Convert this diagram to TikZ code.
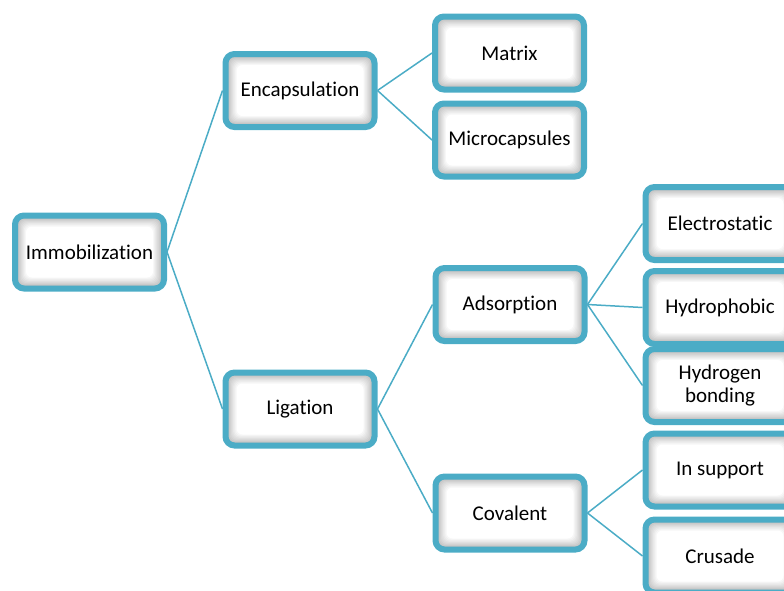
\documentclass[tikz,border=0pt]{standalone}
\usepackage{fontspec}
\setmainfont{Carlito}[Ligatures=NoCommon]
\definecolor{boxline}{HTML}{4BACC6}

\begin{document}
\begin{tikzpicture}[x=1pt, y=-1pt,
    every node/.style={font=\fontsize{21}{23.5}\selectfont, align=center},
    catbox/.style={draw=boxline, line width=6pt, rounded corners=9pt,
        minimum width=149pt, minimum height=73pt, inner sep=0pt,
        path picture={
            \foreach \k in {0,...,10} {
                \pgfmathtruncatemacro{\tint}{\k*10}
                \fill[white!\tint!gray!60, rounded corners=6pt]
                    ([shift={(\k*1.1pt,-\k*1.1pt)}]path picture bounding box.north west)
                    rectangle ([shift={(-\k*1.1pt,\k*1.1pt)}]path picture bounding box.south east);
            }
        }},
    link/.style={boxline, line width=1.5pt}]

    % Page frame
    \useasboundingbox (0,0) rectangle (784,590);

    % =====================================================
    % Root and first level
    % =====================================================
    \node[catbox] (imm) at (89.5,252) {Immobilization};
    \node[catbox] (enc) at (300,90.5) {Encapsulation};
    \node[catbox] (lig) at (300,409) {Ligation};

    % =====================================================
    % Second level
    % =====================================================
    \node[catbox] (mat) at (509.5,53) {Matrix};
    \node[catbox] (mic) at (509.5,140) {Microcapsules};
    \node[catbox] (ads) at (510,304.5) {Adsorption};
    \node[catbox] (cov) at (510,513) {Covalent};

    % =====================================================
    % Third level
    % =====================================================
    \node[catbox] (ele) at (720,223.5) {Electrostatic};
    \node[catbox] (hyd) at (720,307.5) {Hydrophobic};
    \node[catbox] (hbo) at (720,385.5) {Hydrogen\\bonding};
    \node[catbox] (sup) at (720,470) {In support};
    \node[catbox] (cru) at (720,556) {Crusade};

    % Connectors
    \draw[link] (imm.east) -- (enc.west);
    \draw[link] (imm.east) -- (lig.west);
    \draw[link] (enc.east) -- (mat.west);
    \draw[link] (enc.east) -- (mic.west);
    \draw[link] (lig.east) -- (ads.west);
    \draw[link] (lig.east) -- (cov.west);
    \draw[link] (ads.east) -- (ele.west);
    \draw[link] (ads.east) -- (hyd.west);
    \draw[link] (ads.east) -- (hbo.west);
    \draw[link] (cov.east) -- (sup.west);
    \draw[link] (cov.east) -- (cru.west);

\end{tikzpicture}
\end{document}
